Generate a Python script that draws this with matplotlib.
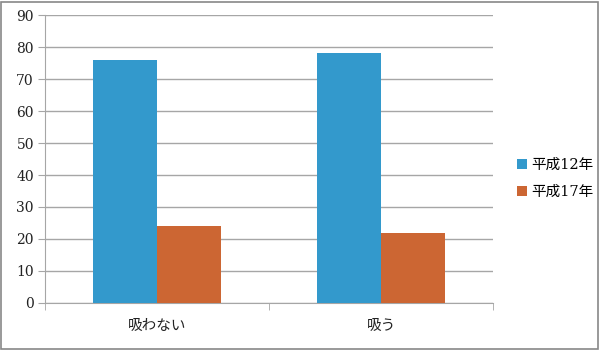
import numpy as np
import matplotlib
matplotlib.use("Agg")
import matplotlib.pyplot as plt
from matplotlib.patches import Rectangle

plt.rcParams["font.family"] = ["DejaVu Serif", "Noto Sans CJK JP"]

categories = ["吸わない", "吸う"]
series_names = ["平成12年", "平成17年"]
h12 = [76.0, 78.2]
h17 = [24.0, 21.8]
colors = ["#3399cc", "#cc6633"]

fig = plt.figure(figsize=(6.0, 3.5), dpi=100, facecolor="white")
ax = fig.add_axes([0.075, 0.135, 0.747, 0.821])

x = np.arange(len(categories))
w = 0.2857
ax.bar(x - w / 2, h12, w, color=colors[0], label=series_names[0], zorder=3)
ax.bar(x + w / 2, h17, w, color=colors[1], label=series_names[1], zorder=3)

ax.set_xlim(-0.5, len(categories) - 0.5)
ax.set_ylim(0, 90)
ax.set_yticks(np.arange(0, 91, 10))
ax.yaxis.grid(True, color="#a6a6a6", lw=1, zorder=0)

ax.set_xticks(x)
ax.set_xticklabels(categories, fontsize=10.5, color="#222222")
ax.tick_params(axis="x", length=0, pad=12)
ax.set_xticks(np.arange(-0.5, len(categories)), minor=True)
ax.tick_params(axis="x", which="minor", length=5, color="#a6a6a6")
ax.tick_params(axis="y", length=5, color="#a6a6a6", labelsize=10,
               labelcolor="#222222", pad=3)

for s in ["top", "right"]:
    ax.spines[s].set_visible(False)
ax.spines["left"].set_color("#a6a6a6")
ax.spines["bottom"].set_color("#a6a6a6")

leg = fig.legend(loc="center left", bbox_to_anchor=(0.84, 0.49), frameon=False,
                 fontsize=10.5, handlelength=0.65, handleheight=0.65,
                 handletextpad=0.3, labelspacing=0.9)

fig.patches.append(Rectangle((0.002, 0.003), 0.994, 0.992, transform=fig.transFigure,
                             fill=False, edgecolor="#888888", lw=1.2))

fig.savefig("out.png", dpi=100, facecolor="white")
